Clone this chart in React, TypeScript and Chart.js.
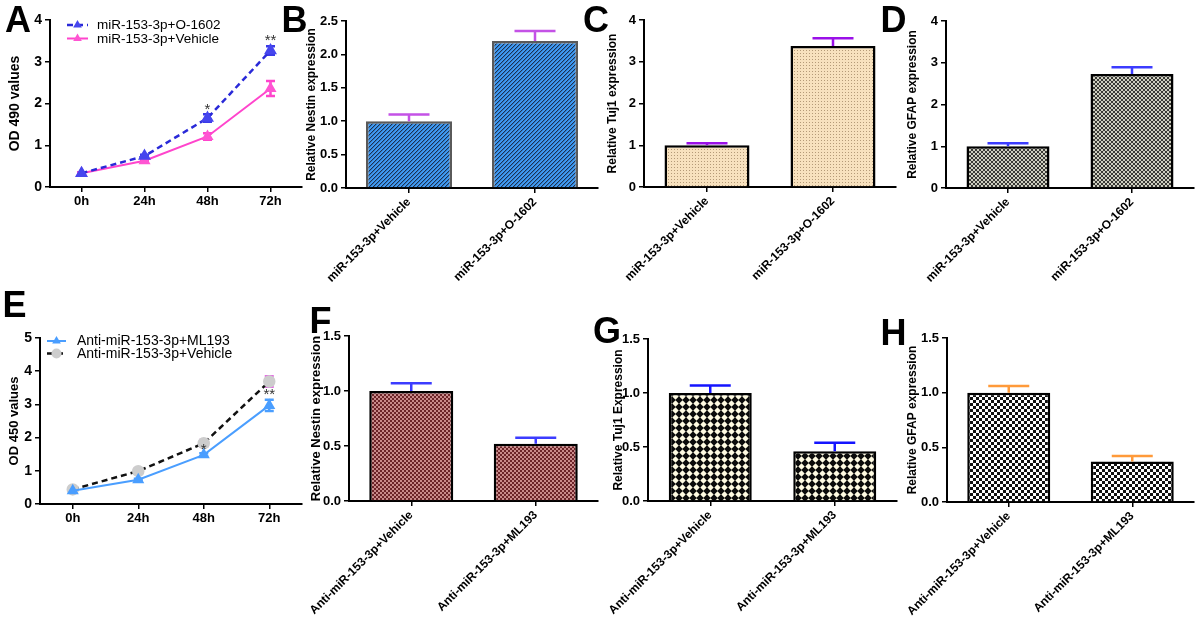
import React, { useEffect, useRef } from 'react';
import { Chart, registerables } from 'chart.js';

Chart.register(...registerables);

const FONT = "'Liberation Sans', Arial, Helvetica, sans-serif";

// ---------------- data ----------------
const timePoints = ['0h', '24h', '48h', '72h'];

const aO1602 = [0.33, 0.74, 1.65, 3.27];
const aO1602Err = [0.02, 0.03, 0.09, 0.1];
const aVehicle = [0.33, 0.63, 1.21, 2.36];
const aVehicleErr = [0.02, 0.03, 0.08, 0.18];
const aSigText = ['', '', '*', '**'];
const aSigAt = [0, 0, 1.84, 3.51];

const eML193 = [0.4, 0.73, 1.48, 2.97];
const eML193Err = [0.02, 0.03, 0.05, 0.17];
const eVehicle = [0.44, 0.99, 1.83, 3.69];
const eVehicleErr = [0.02, 0.08, 0.1, 0.16];
const eSigText = ['', '', '*', '**'];
const eSigAt = [0, 0, 1.62, 3.28];

const agonistGroups = ['miR-153-3p+Vehicle', 'miR-153-3p+O-1602'];
const antagonistGroups = ['Anti-miR-153-3p+Vehicle', 'Anti-miR-153-3p+ML193'];

const bNestin = [1.0, 2.2];
const bNestinErr = [0.1, 0.15];
const cTuj1 = [1.0, 3.38];
const cTuj1Err = [0.05, 0.18];
const dGfap = [1.0, 2.73];
const dGfapErr = [0.07, 0.16];
const fNestin = [1.0, 0.52];
const fNestinErr = [0.07, 0.055];
const gTuj1 = [1.0, 0.46];
const gTuj1Err = [0.07, 0.08];
const hGfap = [1.0, 0.37];
const hGfapErr = [0.06, 0.05];

// ---------------- layout helpers ----------------
const PADL = 60;
const PADT = 16;
const PADR = 12;

type Geo = { titleX: number; titleSize: number; axisX: number; topY: number; rightX: number; bottomY: number; xH: number };
type Box = { left: number; top: number; width: number; height: number; yW: number };

function place(g: Geo): Box {
  const left = Math.round(g.titleX - g.titleSize / 2 - PADL);
  const top = Math.round(g.topY - PADT);
  return { left, top, width: g.rightX + PADR - left, height: g.bottomY - top + g.xH, yW: g.axisX - left - PADL };
}

// ---------------- plugins ----------------
function drawErrors(chart: any, before: boolean) {
  const ctx = chart.ctx;
  const ys = chart.scales.y;
  chart.data.datasets.forEach((ds: any, di: number) => {
    if (!ds.errors || !!ds.errorsBehind !== before) return;
    const meta = chart.getDatasetMeta(di);
    ctx.save();
    ctx.strokeStyle = ds.errorColor;
    ctx.lineWidth = ds.errorWidth || 2;
    meta.data.forEach((el: any, i: number) => {
      const v = ds.data[i];
      const e = ds.errors[i];
      if (!e) return;
      const x = el.x;
      const hi = ys.getPixelForValue(v + e);
      const lo = ys.getPixelForValue(ds.errorsUpperOnly ? v : v - e);
      const hw = ds.errorCap / 2;
      ctx.beginPath();
      ctx.moveTo(x, hi);
      ctx.lineTo(x, lo);
      ctx.moveTo(x - hw, hi);
      ctx.lineTo(x + hw, hi);
      if (!ds.errorsUpperOnly) {
        ctx.moveTo(x - hw, lo);
        ctx.lineTo(x + hw, lo);
      }
      ctx.stroke();
    });
    ctx.restore();
  });
}

const errorBars = {
  id: 'errorBars',
  beforeDatasetsDraw(chart: any) { drawErrors(chart, true); },
  afterDatasetsDraw(chart: any) { drawErrors(chart, false); },
};

const sigMarks = {
  id: 'sigMarks',
  afterDatasetsDraw(chart: any) {
    const ctx = chart.ctx;
    const ys = chart.scales.y;
    chart.data.datasets.forEach((ds: any, di: number) => {
      if (!ds.sigText) return;
      const meta = chart.getDatasetMeta(di);
      ctx.save();
      ctx.fillStyle = '#333';
      ctx.font = `15px ${FONT}`;
      ctx.textAlign = 'center';
      ctx.textBaseline = 'middle';
      ds.sigText.forEach((t: string, i: number) => {
        if (!t) return;
        ctx.fillText(t, meta.data[i].x, ys.getPixelForValue(ds.sigAt[i]));
      });
      ctx.restore();
    });
  },
};

function drawMarker(ctx: CanvasRenderingContext2D, style: string, x: number, y: number, r: number, fill: string) {
  ctx.beginPath();
  if (style === 'triangle') {
    let rad = 0;
    ctx.moveTo(x + Math.sin(rad) * r, y - Math.cos(rad) * r);
    rad += (2 * Math.PI) / 3;
    ctx.lineTo(x + Math.sin(rad) * r, y - Math.cos(rad) * r);
    rad += (2 * Math.PI) / 3;
    ctx.lineTo(x + Math.sin(rad) * r, y - Math.cos(rad) * r);
    ctx.closePath();
  } else {
    ctx.arc(x, y, r, 0, Math.PI * 2);
  }
  ctx.fillStyle = fill;
  ctx.fill();
}

function insetLegend(box: Box, rows: number[], x0: number, x1: number, textX: number, size: number) {
  return {
    id: 'insetLegend',
    afterDraw(chart: any) {
      const ctx = chart.ctx;
      chart.data.datasets.forEach((ds: any, i: number) => {
        if (rows[i] === undefined) return;
        const y = rows[i] - box.top;
        const a = x0 - box.left;
        const b = x1 - box.left;
        ctx.save();
        ctx.strokeStyle = ds.borderColor;
        ctx.lineWidth = ds.borderWidth;
        ctx.setLineDash(ds.borderDash || []);
        ctx.beginPath();
        ctx.moveTo(a, y);
        ctx.lineTo(b, y);
        ctx.stroke();
        ctx.setLineDash([]);
        drawMarker(ctx, ds.pointStyle, (a + b) / 2, y, ds.pointRadius, ds.pointBackgroundColor);
        ctx.fillStyle = '#000';
        ctx.font = `${size}px ${FONT}`;
        ctx.textAlign = 'left';
        ctx.textBaseline = 'middle';
        ctx.fillText(ds.label, textX - box.left, y + 0.5);
        ctx.restore();
      });
    },
  };
}

// ---------------- patterns ----------------
function tile(ctx: CanvasRenderingContext2D, size: number, draw: (g: CanvasRenderingContext2D) => void) {
  const c = document.createElement('canvas');
  c.width = size;
  c.height = size;
  const g = c.getContext('2d')!;
  draw(g);
  return ctx.createPattern(c, 'repeat')!;
}

const blueHatch = (ctx: CanvasRenderingContext2D) =>
  tile(ctx, 4, (g) => {
    for (let x = 0; x < 4; x++)
      for (let y = 0; y < 4; y++) {
        const k = (x + y) % 4;
        g.fillStyle = k === 0 ? '#1c3150' : k === 1 ? '#3479c2' : '#3f9af2';
        g.fillRect(x, y, 1, 1);
      }
  });

const peachDots = (ctx: CanvasRenderingContext2D) =>
  tile(ctx, 3, (g) => {
    g.fillStyle = '#f7e1be';
    g.fillRect(0, 0, 3, 3);
    g.fillStyle = '#b49a78';
    g.fillRect(1, 1, 1, 1);
  });

const checker = (ctx: CanvasRenderingContext2D, cell: number, a: string, b: string) =>
  tile(ctx, cell * 2, (g) => {
    g.fillStyle = b;
    g.fillRect(0, 0, cell * 2, cell * 2);
    g.fillStyle = a;
    g.fillRect(0, 0, cell, cell);
    g.fillRect(cell, cell, cell, cell);
  });

const diamonds = (ctx: CanvasRenderingContext2D) =>
  tile(ctx, 7, (g) => {
    g.fillStyle = '#0b0b0b';
    g.fillRect(0, 0, 7, 7);
    g.fillStyle = '#fffbe2';
    g.beginPath();
    g.moveTo(3.5, 0.3);
    g.lineTo(6.7, 3.5);
    g.lineTo(3.5, 6.7);
    g.lineTo(0.3, 3.5);
    g.closePath();
    g.fill();
  });

// ---------------- axes ----------------
function yAxis(max: number, step: number, decimals: number, title: string, titleSize: number, tickSize: number, yW: number) {
  return {
    min: 0,
    max,
    ticks: {
      stepSize: step,
      color: '#000',
      padding: 3,
      font: { family: FONT, size: tickSize, weight: 'bold' },
      callback: (v: any) => Number(v).toFixed(decimals),
    },
    grid: { drawOnChartArea: false, drawTicks: true, tickLength: 5, color: '#000', lineWidth: 1.5 },
    border: { display: true, color: '#000', width: 2 },
    title: {
      display: true,
      text: title,
      color: '#000',
      padding: 0,
      font: { family: FONT, size: titleSize, weight: 'bold', lineHeight: 1 },
    },
    afterFit: (s: any) => { s.width = yW; },
  };
}

function xAxis(tickSize: number, rot: number, xH: number) {
  return {
    type: 'category',
    offset: true,
    ticks: {
      color: '#000',
      font: { family: FONT, size: tickSize, weight: 'bold' },
      minRotation: rot,
      maxRotation: rot,
      autoSkip: false,
      padding: 2,
    },
    grid: { offset: false, drawOnChartArea: false, drawTicks: true, tickLength: 5, color: '#000', lineWidth: 1.5 },
    border: { display: true, color: '#000', width: 2 },
    afterFit: (s: any) => { s.height = xH; },
  };
}

const baseOptions = {
  responsive: false,
  animation: false,
  layout: { padding: { left: PADL, top: PADT, right: PADR, bottom: 0 } },
  plugins: { legend: { display: false }, tooltip: { enabled: false } },
};

// ---------------- chart builders ----------------
type BarSpec = {
  geo: Geo;
  labels: string[];
  values: number[];
  errors: number[];
  fill: (ctx: CanvasRenderingContext2D) => CanvasPattern;
  border: string;
  errColor: string;
  max: number;
  step: number;
  decimals: number;
  title: string;
  barW: number;
};

function barBuilder(s: BarSpec) {
  const box = place(s.geo);
  return {
    box,
    build: (ctx: CanvasRenderingContext2D) => ({
      type: 'bar',
      data: {
        labels: s.labels,
        datasets: [
          {
            data: s.values,
            backgroundColor: s.fill(ctx),
            borderColor: s.border,
            borderWidth: 2.5,
            borderSkipped: 'bottom',
            inflateAmount: 0,
            barThickness: s.barW,
            errors: s.errors,
            errorColor: s.errColor,
            errorCap: 41,
            errorWidth: 2.5,
            errorsUpperOnly: true,
          },
        ],
      },
      options: {
        ...baseOptions,
        scales: {
          x: xAxis(12, 45, s.geo.xH),
          y: yAxis(s.max, s.step, s.decimals, s.title, s.geo.titleSize, 13, box.yW),
        },
      },
      plugins: [errorBars],
    }),
  };
}

function lineBuilder(geo: Geo, datasets: any[], max: number, title: string, legendRows: number[], lx0: number, lx1: number, textX: number, legendSize: number) {
  const box = place(geo);
  return {
    box,
    build: () => ({
      type: 'line',
      data: { labels: timePoints, datasets },
      options: {
        ...baseOptions,
        scales: {
          x: xAxis(13, 0, geo.xH),
          y: yAxis(max, 1, 0, title, geo.titleSize, 14, box.yW),
        },
      },
      plugins: [errorBars, sigMarks, insetLegend(box, legendRows, lx0, lx1, textX, legendSize)],
    }),
  };
}

const panelA = lineBuilder(
  { titleX: 14.5, titleSize: 14, axisX: 50, topY: 19.5, rightX: 302, bottomY: 187, xH: 30 },
  [
    {
      label: 'miR-153-3p+O-1602',
      data: aO1602,
      borderColor: '#2a2ad8',
      borderWidth: 2.5,
      borderDash: [6, 4],
      pointStyle: 'triangle',
      pointRadius: 5,
      pointBackgroundColor: '#4646ee',
      pointBorderColor: '#4646ee',
      tension: 0,
      fill: false,
      errors: aO1602Err,
      errorColor: '#3a3ae8',
      errorCap: 9,
      errorWidth: 2.5,
      errorsBehind: true,
      sigText: aSigText,
      sigAt: aSigAt,
    },
    {
      label: 'miR-153-3p+Vehicle',
      data: aVehicle,
      borderColor: '#ff44cc',
      borderWidth: 2,
      pointStyle: 'triangle',
      pointRadius: 5,
      pointBackgroundColor: '#ff55d2',
      pointBorderColor: '#ff55d2',
      tension: 0,
      fill: false,
      errors: aVehicleErr,
      errorColor: '#ff44cc',
      errorCap: 9,
      errorWidth: 2.5,
      errorsBehind: true,
    },
  ],
  4,
  'OD 490 values',
  [25, 38.5],
  67,
  88,
  97,
  13.5
);

const panelE = lineBuilder(
  { titleX: 14, titleSize: 13, axisX: 40, topY: 338, rightX: 302, bottomY: 504, xH: 30 },
  [
    {
      label: 'Anti-miR-153-3p+ML193',
      data: eML193,
      borderColor: '#4a9eff',
      borderWidth: 2,
      pointStyle: 'triangle',
      pointRadius: 5,
      pointBackgroundColor: '#4a9eff',
      pointBorderColor: '#4a9eff',
      tension: 0,
      fill: false,
      errors: eML193Err,
      errorColor: '#4a9eff',
      errorCap: 9,
      errorWidth: 2.5,
      errorsBehind: true,
      sigText: eSigText,
      sigAt: eSigAt,
    },
    {
      label: 'Anti-miR-153-3p+Vehicle',
      data: eVehicle,
      borderColor: '#111111',
      borderWidth: 2.5,
      borderDash: [6, 4],
      pointStyle: 'circle',
      pointRadius: 5,
      pointBackgroundColor: '#cdcdcd',
      pointBorderColor: '#cdcdcd',
      tension: 0,
      fill: false,
      errors: eVehicleErr,
      errorColor: '#e070e0',
      errorCap: 9,
      errorWidth: 2.5,
      errorsBehind: true,
    },
  ],
  5,
  'OD 450 values',
  [341, 353.5],
  47,
  66,
  77,
  14
);

const panelB = barBuilder({
  geo: { titleX: 312, titleSize: 12, axisX: 346, topY: 21, rightX: 598, bottomY: 188, xH: 120 },
  labels: agonistGroups, values: bNestin, errors: bNestinErr, fill: blueHatch, border: '#5a5a5a',
  errColor: '#c452e6', max: 2.5, step: 0.5, decimals: 1, title: 'Relative Nestin expression', barW: 86,
});
const panelC = barBuilder({
  geo: { titleX: 613, titleSize: 12, axisX: 644, topY: 20, rightX: 896, bottomY: 187, xH: 120 },
  labels: agonistGroups, values: cTuj1, errors: cTuj1Err, fill: peachDots, border: '#000',
  errColor: '#9a10e8', max: 4, step: 1, decimals: 0, title: 'Relative Tuj1 expression', barW: 85,
});
const panelD = barBuilder({
  geo: { titleX: 912.5, titleSize: 12, axisX: 946, topY: 21, rightX: 1194, bottomY: 188, xH: 120 },
  labels: agonistGroups, values: dGfap, errors: dGfapErr, fill: (c) => checker(c, 2, '#3a3a36', '#cfcfc0'),
  border: '#000', errColor: '#3c3cff', max: 4, step: 1, decimals: 0, title: 'Relative GFAP expression', barW: 83,
});
const panelF = barBuilder({
  geo: { titleX: 316, titleSize: 13, axisX: 349, topY: 336, rightX: 598, bottomY: 501, xH: 120 },
  labels: antagonistGroups, values: fNestin, errors: fNestinErr, fill: (c) => checker(c, 2, '#6c2428', '#c98a8a'),
  border: '#000', errColor: '#3c3cff', max: 1.5, step: 0.5, decimals: 1, title: 'Relative Nestin expression', barW: 84,
});
const panelG = barBuilder({
  geo: { titleX: 618.5, titleSize: 12, axisX: 648, topY: 339, rightX: 897, bottomY: 501, xH: 120 },
  labels: antagonistGroups, values: gTuj1, errors: gTuj1Err, fill: diamonds, border: '#000',
  errColor: '#1414ff', max: 1.5, step: 0.5, decimals: 1, title: 'Relative Tuj1 Expression', barW: 83,
});
const panelH = barBuilder({
  geo: { titleX: 913, titleSize: 12, axisX: 947, topY: 338, rightX: 1194, bottomY: 502, xH: 120 },
  labels: antagonistGroups, values: hGfap, errors: hGfapErr, fill: (c) => checker(c, 3, '#111111', '#ffffff'),
  border: '#000', errColor: '#ff9a3a', max: 1.5, step: 0.5, decimals: 1, title: 'Relative GFAP expression', barW: 83,
});

const panels = [panelA, panelB, panelC, panelD, panelE, panelF, panelG, panelH];

const panelLetters = [
  { t: 'A', x: 5, y: 1.5 },
  { t: 'B', x: 281.5, y: 1.5 },
  { t: 'C', x: 583, y: 1.5 },
  { t: 'D', x: 880.5, y: 1.5 },
  { t: 'E', x: 2.5, y: 286.5 },
  { t: 'F', x: 309.5, y: 302.5 },
  { t: 'G', x: 593, y: 312.5 },
  { t: 'H', x: 880.5, y: 314.5 },
];

function ChartCanvas({ box, build }: { box: Box; build: (ctx: CanvasRenderingContext2D) => any }) {
  const ref = useRef<HTMLCanvasElement>(null);
  useEffect(() => {
    const cv = ref.current!;
    const ctx = cv.getContext('2d')!;
    const chart = new Chart(ctx, build(ctx));
    return () => chart.destroy();
  }, []);
  return (
    <canvas
      ref={ref}
      width={box.width}
      height={box.height}
      style={{ position: 'absolute', left: box.left, top: box.top, width: box.width, height: box.height }}
    />
  );
}

export default function App() {
  useEffect(() => {
    document.body.style.margin = '0';
    document.body.style.overflow = 'hidden';
  }, []);
  return (
    <div style={{ position: 'absolute', left: 0, top: 0, width: 1200, height: 624, background: '#fff', overflow: 'hidden' }}>
      {panels.map((p, i) => (
        <ChartCanvas key={i} box={p.box} build={p.build} />
      ))}
      {panelLetters.map((l) => (
        <div
          key={l.t}
          style={{
            position: 'absolute',
            left: l.x,
            top: l.y,
            fontFamily: FONT,
            fontWeight: 'bold',
            fontSize: 36,
            lineHeight: '36px',
            color: '#000',
          }}
        >
          {l.t}
        </div>
      ))}
    </div>
  );
}
